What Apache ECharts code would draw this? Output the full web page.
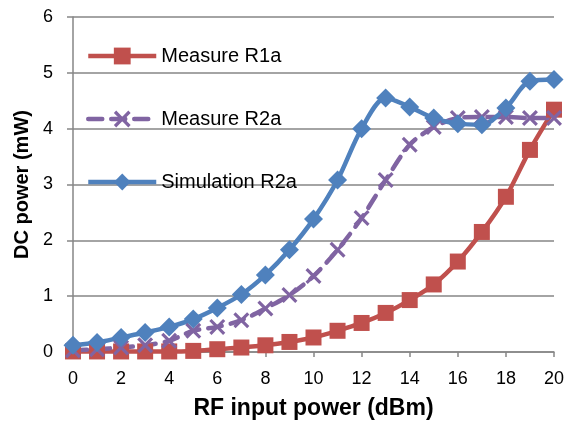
<!DOCTYPE html>
<html>
<head>
<meta charset="utf-8">
<script src="https://cdn.jsdelivr.net/npm/echarts@6/dist/echarts.min.js"></script>
<style>html,body{margin:0;padding:0;background:#fff}#c{width:570px;height:421px}</style>
</head>
<body>
<div id="c"></div>
<script>
const xValues = [0,1,2,3,4,5,6,7,8,9,10,11,12,13,14,15,16,17,18,19,20];
const measureR1a = [0.01,0.01,0.01,0.01,0.01,0.02,0.05,0.08,0.12,0.18,0.26,0.38,0.52,0.70,0.93,1.21,1.62,2.15,2.78,3.62,4.34];
const measureR2a = [0.03,0.05,0.08,0.12,0.20,0.38,0.45,0.57,0.78,1.02,1.36,1.83,2.40,3.08,3.71,4.03,4.19,4.21,4.21,4.19,4.19];
const simulationR2a = [0.12,0.17,0.26,0.35,0.45,0.59,0.79,1.03,1.38,1.83,2.38,3.08,4.00,4.55,4.39,4.19,4.09,4.07,4.37,4.85,4.88];
const seriesNames = ['Measure R1a','Measure R2a','Simulation R2a'];

const FONT = '"Liberation Sans", Arial, sans-serif';
const pair = arr => xValues.map((x,i)=>[x,arr[i]]);
const xPath = 'path://M0,1.4 L1.4,0 L5,3.6 L8.6,0 L10,1.4 L6.4,5 L10,8.6 L8.6,10 L5,6.4 L1.4,10 L0,8.6 L3.6,5 Z';

const chart = echarts.init(document.getElementById('c'), null, {renderer:'canvas'});
chart.setOption({
  animation:false,
  backgroundColor:'#fff',
  textStyle:{fontFamily:FONT},
  grid:{left:73,right:16,top:17,bottom:69,containLabel:false,outerBoundsMode:'none'},
  legend:{
    orient:'vertical', left:86, top:46, itemGap:43, padding:0,
    itemWidth:68, itemHeight:21,
    lineStyle:{width:4.5},
    textStyle:{fontSize:20,color:'#000',fontFamily:FONT,padding:[0,0,0,0]},
    data:seriesNames
  },
  xAxis:{
    type:'value', min:0, max:20, interval:2,
    name:'RF input power (dBm)', nameLocation:'middle', nameGap:45,
    nameTextStyle:{fontSize:23,fontWeight:'bold',color:'#000',fontFamily:FONT},
    axisLine:{show:true,lineStyle:{color:'#868686',width:1.5}},
    axisTick:{show:true,length:5,lineStyle:{color:'#868686',width:1.5}},
    axisLabel:{fontSize:18,color:'#000',margin:18,fontFamily:FONT},
    splitLine:{show:false}
  },
  yAxis:{
    type:'value', min:0, max:6, interval:1,
    name:'DC power (mW)', nameLocation:'middle', nameGap:39,
    nameTextStyle:{fontSize:20,fontWeight:'bold',color:'#000',fontFamily:FONT},
    axisLine:{show:true,lineStyle:{color:'#868686',width:1.5}},
    axisTick:{show:true,length:6,lineStyle:{color:'#868686',width:1.5}},
    axisLabel:{fontSize:18,color:'#000',margin:20,fontFamily:FONT},
    splitLine:{show:true,lineStyle:{color:'#868686',width:1.5}}
  },
  series:[
    {name:seriesNames[0], type:'line', data:pair(measureR1a), smooth:0.3,
     symbol:'rect', symbolSize:16,
     lineStyle:{color:'#C0504D',width:4.5}, itemStyle:{color:'#C0504D'}},
    {name:seriesNames[1], type:'line', data:pair(measureR2a), smooth:0.3,
     symbol:xPath, symbolSize:16,
     lineStyle:{color:'#8064A2',width:4.5,type:[14,9],cap:'round'}, itemStyle:{color:'#8064A2'}},
    {name:seriesNames[2], type:'line', data:pair(simulationR2a), smooth:0.3,
     symbol:'diamond', symbolSize:19,
     lineStyle:{color:'#4F81BD',width:4.5}, itemStyle:{color:'#4F81BD'}}
  ]
});
</script>
</body>
</html>
